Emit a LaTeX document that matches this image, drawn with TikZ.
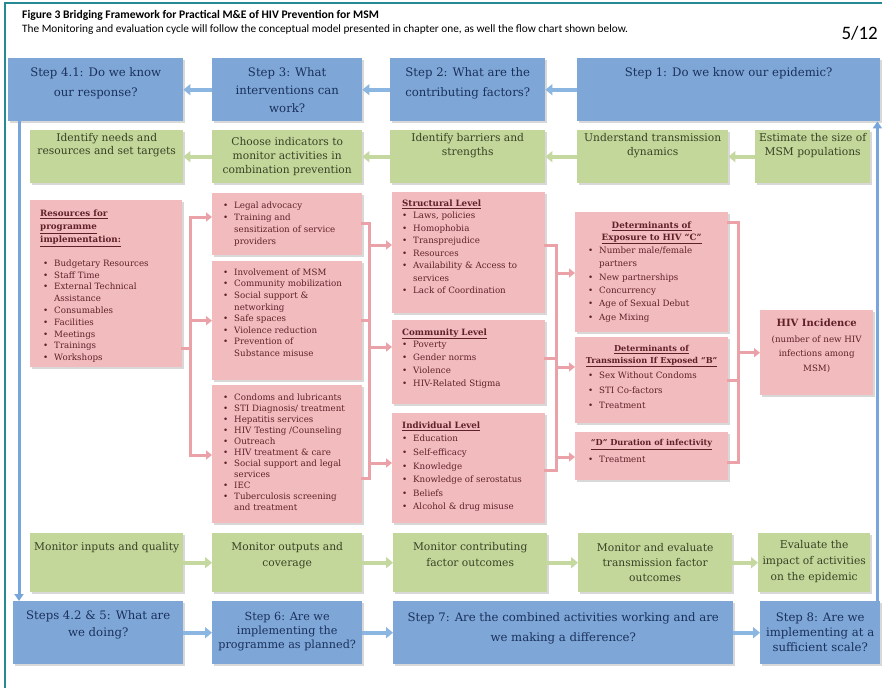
\documentclass[tikz,border=0pt]{standalone}
\usepackage{fontspec}
\setmainfont{DejaVu Serif}
\newfontfamily\ttlfont{Carlito}
\usetikzlibrary{arrows.meta,shadows,calc}
\definecolor{bfill}{RGB}{126,167,215}
\definecolor{btext}{RGB}{26,48,92}
\definecolor{barr}{RGB}{140,182,226}
\definecolor{bline}{RGB}{120,165,218}
\definecolor{gfill}{RGB}{196,215,155}
\definecolor{gtext}{RGB}{55,66,36}
\definecolor{garr}{RGB}{196,216,160}
\definecolor{pfill}{RGB}{242,188,190}
\definecolor{ptext}{RGB}{95,32,40}
\definecolor{pcol}{RGB}{234,162,168}
\definecolor{framecol}{RGB}{38,138,148}
\newcommand{\mybl}{\makebox[11pt][l]{\textbullet}}
\newcommand{\myind}{\hspace*{11pt}}
\newcommand{\uh}[1]{\underline{\textbf{#1}}}
\begin{document}
\begin{tikzpicture}[x=1pt,y=-1pt,
  bx/.style={rectangle, inner sep=0pt, anchor=north west, drop shadow={opacity=0.3,shadow xshift=1.3pt,shadow yshift=-1.6pt}},
  bluebox/.style={bx, fill=bfill},
  greenbox/.style={bx, fill=gfill},
  pinkbox/.style={bx, fill=pfill},
  btx/.style={text=btext, align=center, anchor=north, inner sep=0pt, font=\fontsize{11.7}{19}\selectfont},
  gtx/.style={text=gtext, align=center, anchor=north, inner sep=0pt, font=\fontsize{10.7}{14}\selectfont},
  ptx/.style={text=ptext, align=left, anchor=north west, inner sep=0pt, font=\fontsize{8.7}{12}\selectfont},
  phd/.style={text=ptext, align=center, anchor=north, inner sep=0pt, font=\fontsize{8.7}{12}\selectfont},
  barrow/.style={draw=barr, line width=4pt, -{Triangle[width=11pt,length=7pt]}},
  garrow/.style={draw=garr, line width=4pt, -{Triangle[width=11pt,length=7pt]}},
  parrow/.style={draw=pcol, line width=3pt, -{Triangle[width=9pt,length=6pt]}},
  pconn/.style={draw=pcol, line width=3pt, line cap=rect},
  loopline/.style={draw=bline, line width=3pt, -{Triangle[width=9pt,length=7pt]}}
]
\useasboundingbox (0,0) rectangle (882,688);
\fill[white] (0,0) rectangle (882,688);
\draw[framecol, line width=2pt] (5,688) -- (5,3) -- (882,3);

% title
\node[anchor=west, inner sep=0pt, font=\ttlfont\fontsize{11.6}{13}\selectfont\bfseries] (title) at (22,15) {Figure 3 Bridging Framework for Practical M\&E of HIV Prevention for MSM};
\node[anchor=west, inner sep=0pt, font=\ttlfont\fontsize{11.3}{13}\selectfont] (subtitle) at (22,30) {The Monitoring and evaluation cycle will follow the conceptual model presented in chapter one, as well the flow chart shown below.};
\node[anchor=east, inner sep=0pt, font=\ttlfont\fontsize{19}{22}\selectfont] (page) at (878,33) {5/12};

% top blue row
\node[bluebox, minimum width=175, minimum height=63] (s41) at (8,58) {};
\node[bluebox, minimum width=150, minimum height=63] (s3) at (212,58) {};
\node[bluebox, minimum width=155, minimum height=63] (s2) at (390,58) {};
\node[bluebox, minimum width=303, minimum height=63] (s1) at (577,58) {};
\node[btx, font=\fontsize{11.7}{20}\selectfont] (s41t) at ($(s41.north)+(0,9)$) {Step 4.1: Do we know\\our response?};
\node[btx, font=\fontsize{11.7}{18}\selectfont] (s3t) at ($(s3.north)+(0,9)$) {Step 3: What\\interventions can\\work?};
\node[btx, font=\fontsize{11.7}{20}\selectfont] (s2t) at ($(s2.north)+(0,9)$) {Step 2: What are the\\contributing factors?};
\node[btx] (s1t) at ($(s1.north)+(0,9)$) {Step 1: Do we know our epidemic?};

% green row 2
\node[greenbox, minimum width=153, minimum height=53] (g1) at (30,130) {};
\node[greenbox, minimum width=150, minimum height=53] (g2) at (212,130) {};
\node[greenbox, minimum width=155, minimum height=53] (g3) at (390,130) {};
\node[greenbox, minimum width=151, minimum height=53] (g4) at (577,130) {};
\node[greenbox, minimum width=115, minimum height=53] (g5) at (755,130) {};
\node[gtx, font=\fontsize{10.7}{13.5}\selectfont] (g1t) at ($(g1.north)+(0,3)$) {Identify needs and\\resources and set targets};
\node[gtx] (g2t) at ($(g2.north)+(0,7)$) {Choose indicators to\\monitor activities in\\combination prevention};
\node[gtx, font=\fontsize{10.7}{14.5}\selectfont] (g3t) at ($(g3.north)+(0,3)$) {Identify barriers and\\strengths};
\node[gtx, font=\fontsize{10.7}{14.5}\selectfont] (g4t) at ($(g4.north)+(0,3)$) {Understand transmission\\dynamics};
\node[gtx, font=\fontsize{10.7}{14.5}\selectfont] (g5t) at ($(g5.north)+(0,3)$) {Estimate the size of\\MSM populations};

% pink boxes
\node[pinkbox, minimum width=152, minimum height=167] (res) at (30,200) {};
\node[pinkbox, minimum width=150, minimum height=62] (pa) at (212,193) {};
\node[pinkbox, minimum width=150, minimum height=119] (pb) at (212,261) {};
\node[pinkbox, minimum width=150, minimum height=138] (pc) at (212,385) {};
\node[pinkbox, minimum width=153, minimum height=121] (ps) at (392,192) {};
\node[pinkbox, minimum width=153, minimum height=84] (pm) at (392,320) {};
\node[pinkbox, minimum width=153, minimum height=110] (pi) at (392,413) {};
\node[pinkbox, minimum width=153, minimum height=120] (pe) at (575,212) {};
\node[pinkbox, minimum width=153, minimum height=86] (pt) at (575,337) {};
\node[pinkbox, minimum width=153, minimum height=48] (pd) at (575,432) {};
\node[pinkbox, minimum width=113, minimum height=85] (hiv) at (760,310) {};

\node[ptx, font=\fontsize{8.7}{13.3}\selectfont] (rest) at ($(res.north west)+(10,9.5)$) {\uh{Resources for}\\\uh{programme}\\\uh{implementation:}};
\node[ptx, font=\fontsize{8.7}{11.8}\selectfont] (resb) at ($(res.north west)+(13,59.5)$) {\mybl Budgetary Resources\\\mybl Staff Time\\\mybl External Technical\\\myind Assistance\\\mybl Consumables\\\mybl Facilities\\\mybl Meetings\\\mybl Trainings\\\mybl Workshops};
\node[ptx] (pat) at ($(pa.north west)+(11,8.4)$) {\mybl Legal advocacy\\\mybl Training and\\\myind sensitization of service\\\myind providers};
\node[ptx, font=\fontsize{8.7}{11.6}\selectfont] (pbt) at ($(pb.north west)+(11,7.4)$) {\mybl Involvement of MSM\\\mybl Community mobilization\\\mybl Social support \&\\\myind networking\\\mybl Safe spaces\\\mybl Violence reduction\\\mybl Prevention of\\\myind Substance misuse};
\node[ptx, font=\fontsize{8.7}{11}\selectfont] (pct) at ($(pc.north west)+(11,8.4)$) {\mybl Condoms and lubricants\\\mybl STI Diagnosis/ treatment\\\mybl Hepatitis services\\\mybl HIV Testing /Counseling\\\mybl Outreach\\\mybl HIV treatment \& care\\\mybl Social support and legal\\\myind services\\\mybl IEC\\\mybl Tuberculosis screening\\\myind and treatment};
\node[ptx, font=\fontsize{8.7}{12.5}\selectfont] (pst) at ($(ps.north west)+(10,7.4)$) {\uh{Structural Level}\\\mybl Laws, policies\\\mybl Homophobia\\\mybl Transprejudice\\\mybl Resources\\\mybl Availability \& Access to\\\myind services\\\mybl Lack of Coordination};
\node[ptx, font=\fontsize{8.7}{12.7}\selectfont] (pmt) at ($(pm.north west)+(10,8.4)$) {\uh{Community Level}\\\mybl Poverty\\\mybl Gender norms\\\mybl Violence\\\mybl HIV-Related Stigma};
\node[ptx, font=\fontsize{8.7}{13.6}\selectfont] (pit) at ($(pi.north west)+(10,8.4)$) {\uh{Individual Level}\\\mybl Education\\\mybl Self-efficacy\\\mybl Knowledge\\\mybl Knowledge of serostatus\\\mybl Beliefs\\\mybl Alcohol \& drug misuse};
\node[phd] (peh) at ($(pe.north)+(0,9.4)$) {\uh{Determinants of}\\\uh{Exposure to HIV ``C''}};
\node[ptx, font=\fontsize{8.7}{13.4}\selectfont] (peb) at ($(pe.north west)+(13,34.4)$) {\mybl Number male/female\\\myind partners\\\mybl New partnerships\\\mybl Concurrency\\\mybl Age of Sexual Debut\\\mybl Age Mixing};
\node[phd, font=\fontsize{8.2}{11.5}\selectfont] (pth) at ($(pt.north)+(0,8.4)$) {\uh{Determinants of}\\\uh{Transmission If Exposed ``B''}};
\node[ptx, font=\fontsize{8.7}{15}\selectfont] (ptb) at ($(pt.north west)+(13,34.4)$) {\mybl Sex Without Condoms\\\mybl STI Co-factors\\\mybl Treatment};
\node[phd, font=\fontsize{8.2}{11.5}\selectfont] (pdh) at ($(pd.north)+(0,7.4)$) {\uh{``D'' Duration of infectivity}};
\node[ptx] (pdb) at ($(pd.north west)+(13,24.4)$) {\mybl Treatment};
\node[phd, font=\fontsize{10}{12}\selectfont\bfseries] (hivh) at ($(hiv.north)+(0,8.5)$) {HIV Incidence};
\node[phd, font=\fontsize{8.7}{14.5}\selectfont] (hivb) at ($(hiv.north)+(0,25.4)$) {(number of new HIV\\infections among\\MSM)};

% bottom green row
\node[greenbox, minimum width=153, minimum height=59] (m1) at (30,533) {};
\node[greenbox, minimum width=150, minimum height=59] (m2) at (212,533) {};
\node[greenbox, minimum width=154, minimum height=59] (m3) at (393,533) {};
\node[greenbox, minimum width=154, minimum height=59] (m4) at (578,533) {};
\node[greenbox, minimum width=112, minimum height=59] (m5) at (758,533) {};
\node[gtx] (m1t) at ($(m1.north)+(0,9.6)$) {Monitor inputs and quality};
\node[gtx, font=\fontsize{10.7}{15.5}\selectfont] (m2t) at ($(m2.north)+(0,9.6)$) {Monitor outputs and\\coverage};
\node[gtx, font=\fontsize{10.7}{15.5}\selectfont] (m3t) at ($(m3.north)+(0,9.6)$) {Monitor contributing\\factor outcomes};
\node[gtx, font=\fontsize{10.7}{15}\selectfont] (m4t) at ($(m4.north)+(0,10.6)$) {Monitor and evaluate\\transmission factor\\outcomes};
\node[gtx, font=\fontsize{10.7}{16}\selectfont] (m5t) at ($(m5.north)+(0,7.6)$) {Evaluate the\\impact of activities\\on the epidemic};

% bottom blue row
\node[bluebox, minimum width=170, minimum height=63] (b1) at (13,601) {};
\node[bluebox, minimum width=150, minimum height=63] (b2) at (212,601) {};
\node[bluebox, minimum width=340, minimum height=63] (b3) at (393,601) {};
\node[bluebox, minimum width=120, minimum height=63] (b4) at (760,601) {};
\node[btx, font=\fontsize{11.7}{17}\selectfont] (b1t) at ($(b1.north)+(0,9.2)$) {Steps 4.2 \& 5: What are\\we doing?};
\node[btx, font=\fontsize{11.2}{14}\selectfont] (b2t) at ($(b2.north)+(0,11.2)$) {Step 6: Are we\\implementing the\\programme as planned?};
\node[btx, font=\fontsize{11.7}{20}\selectfont] (b3t) at ($(b3.north)+(0,11.2)$) {Step 7: Are the combined activities working and are\\we making a difference?};
\node[btx, font=\fontsize{11.7}{15}\selectfont] (b4t) at ($(b4.north)+(0,11.2)$) {Step 8: Are we\\implementing at a\\sufficient scale?};

% row arrows
\draw[barrow] (s1.west) -- (s2.east);
\draw[barrow] (s2.west) -- (s3.east);
\draw[barrow] (s3.west) -- (s41.east);
\draw[garrow] (g5.west) -- (g4.east);
\draw[garrow] (g4.west) -- (g3.east);
\draw[garrow] (g3.west) -- (g2.east);
\draw[garrow] (g2.west) -- (g1.east);
\draw[garrow] (m1.east) -- (m2.west);
\draw[garrow] (m2.east) -- (m3.west);
\draw[garrow] (m3.east) -- (m4.west);
\draw[garrow] (m4.east) -- (m5.west);
\draw[barrow] (b1.east) -- (b2.west);
\draw[barrow] (b2.east) -- (b3.west);
\draw[barrow] (b3.east) -- (b4.west);

% loop lines
\draw[loopline] ([xshift=11pt]s41.south west) -- ([xshift=6pt]b1.north west);
\draw[loopline] ([xshift=-3pt]b4.north east) -- ([xshift=-3pt]s1.south east);

% pink connectors
\coordinate (rt) at (190,217);
\coordinate (rs) at (190,348);
\coordinate (rb) at (190,455);
\draw[pconn] (res.east |- rs) -- (rs);
\draw[pconn] (rt) -- (rb);
\draw[parrow] (rt) -- (pa.west |- rt);
\draw[parrow] (rt |- pb.west) -- (pb.west);
\draw[parrow] (rb) -- (pc.west |- rb);

\coordinate (ct) at (369,223);
\coordinate (cb) at (369,478);
\coordinate (c2s) at (369,245);
\coordinate (c2m) at (369,347);
\coordinate (c2i) at (369,463);
\draw[pconn] (pa.east |- ct) -- (ct);
\draw[pconn] (pb.east) -- (ct |- pb.east);
\draw[pconn] (pc.east |- cb) -- (cb);
\draw[pconn] (ct) -- (cb);
\draw[parrow] (c2s) -- (ps.west |- c2s);
\draw[parrow] (c2m) -- (pm.west |- c2m);
\draw[parrow] (c2i) -- (pi.west |- c2i);

\coordinate (dt) at (556,245);
\coordinate (dm) at (556,358);
\coordinate (db) at (556,470);
\coordinate (d3e) at (556,273);
\coordinate (d3t) at (556,367);
\coordinate (d3d) at (556,457);
\draw[pconn] (ps.east |- dt) -- (dt);
\draw[pconn] (pm.east |- dm) -- (dm);
\draw[pconn] (pi.east |- db) -- (db);
\draw[pconn] (dt) -- (db);
\draw[parrow] (d3e) -- (pe.west |- d3e);
\draw[parrow] (d3t) -- (pt.west |- d3t);
\draw[parrow] (d3d) -- (pd.west |- d3d);

\coordinate (et) at (738,222);
\coordinate (em) at (738,380);
\coordinate (eb) at (738,462);
\draw[pconn] (pe.east |- et) -- (et);
\draw[pconn] (pt.east |- em) -- (em);
\draw[pconn] (pd.east |- eb) -- (eb);
\draw[pconn] (et) -- (eb);
\draw[parrow] (et |- hiv.west) -- (hiv.west);
\end{tikzpicture}
\end{document}
